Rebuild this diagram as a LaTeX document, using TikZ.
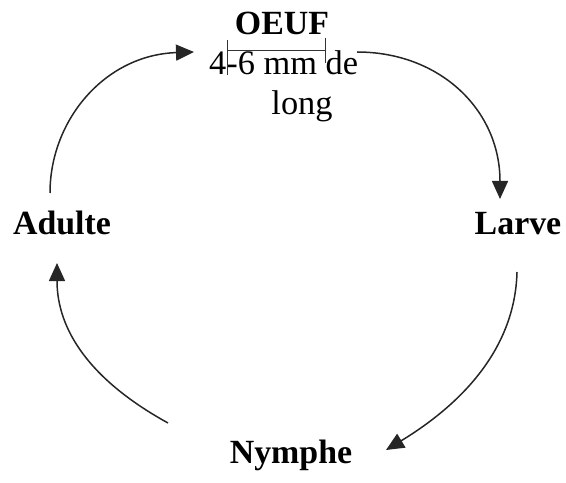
\documentclass[tikz,border=0pt]{standalone}
\usepackage{fontspec}
\setmainfont{Liberation Serif}
\usetikzlibrary{arrows.meta}
\begin{document}
\begin{tikzpicture}[x=1bp,y=-1bp,
  lbl/.style={inner sep=0pt,anchor=base,font=\fontsize{34}{38}\selectfont\bfseries},
  txt/.style={inner sep=0pt,anchor=base,font=\fontsize{34.5}{38}\selectfont},
  cyc/.style={line width=1.5bp,draw=black!85,-{Triangle[length=18bp,width=16bp]}},
  dim/.style={line width=1bp,draw=black!80}]
\useasboundingbox (0,0) rectangle (566,483);
% labels
\node[lbl] (oeuf) at (282,35) {OEUF};
\node[txt,anchor=base west] (size) at (209,75) {4-6 mm de};
\node[txt] (long) at (302,115) {long};
\node[lbl] (larve) at (518,234) {Larve};
\node[lbl] (nymphe) at (291,463) {Nymphe};
\node[lbl] (adulte) at (62,234) {Adulte};
% dimension bracket
\coordinate (bl) at (227,51);
\coordinate (br) at (325,51);
\coordinate (blt) at (227,40);
\coordinate (blb) at (227,75);
\coordinate (brt) at (325,38);
\coordinate (brb) at (325,63);
\draw[dim] (bl) -- (br);
\draw[dim] (blt) -- (blb);
\draw[dim] (brt) -- (brb);
% connector end points
\coordinate (a1s) at (50,193);
\coordinate (a1e) at (194,52);
\coordinate (a2s) at (357,52);
\coordinate (a2e) at (500,199);
\coordinate (a3s) at (517,272);
\coordinate (a3e) at (386,450);
\coordinate (a4s) at (168,423);
\coordinate (a4e) at (57,263);
% cycle arrows
\draw[cyc] (a1s) .. controls (50,120) and (105,55) .. (a1e);
\draw[cyc] (a2s) .. controls (440,52) and (500,110) .. (a2e);
\draw[cyc] (a3s) .. controls (515,350) and (460,405) .. (a3e);
\draw[cyc] (a4s) .. controls (90,380) and (57,330) .. (a4e);
\end{tikzpicture}
\end{document}
